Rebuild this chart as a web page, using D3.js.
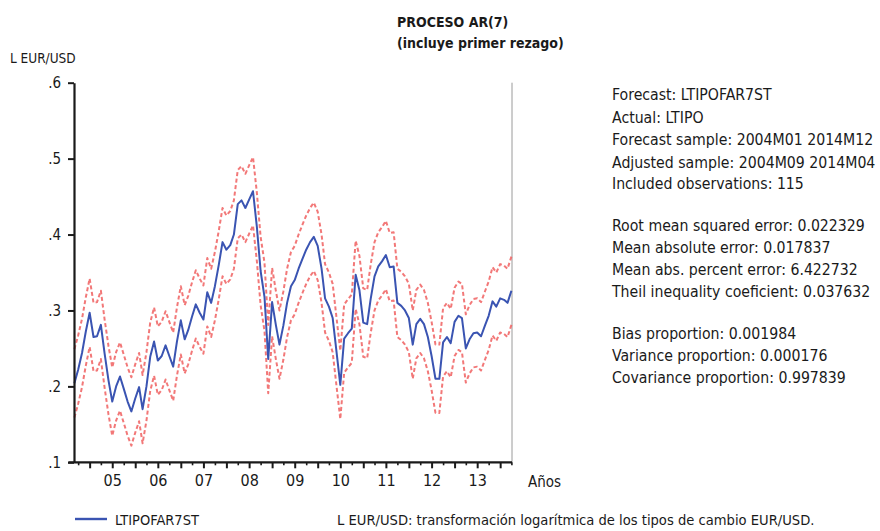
<!DOCTYPE html>
<html>
<head>
<meta charset="utf-8">
<script src="https://cdn.jsdelivr.net/npm/d3@7/dist/d3.min.js"></script>
<style>
  html, body { margin: 0; padding: 0; background: #fff; }
  svg { display: block; }
  text { font-family: "Liberation Sans Narrow", "DejaVu Sans Condensed", sans-serif; fill: #1a1a1a; }
</style>
</head>
<body>
<svg id="chart" width="880" height="531"></svg>
<script>
// Monthly series, first observation 2004M09, last 2014M04 (116 months)
const startMonth = [2004, 8];

// Static forecast LTIPOFAR7ST
const forecast = [
  0.204, 0.222, 0.244, 0.272, 0.297, 0.265, 0.266, 0.281, 0.243, 0.208,
  0.180, 0.200, 0.213, 0.197, 0.180, 0.167, 0.184, 0.199, 0.170, 0.200,
  0.239, 0.259, 0.234, 0.240, 0.254, 0.240, 0.226, 0.259, 0.287, 0.262,
  0.274, 0.292, 0.308, 0.297, 0.288, 0.324, 0.310, 0.332, 0.360, 0.390,
  0.380, 0.386, 0.400, 0.440, 0.445, 0.435, 0.446, 0.457, 0.410, 0.352,
  0.318, 0.236, 0.311, 0.280, 0.255, 0.280, 0.310, 0.332, 0.340, 0.355,
  0.368, 0.380, 0.390, 0.397, 0.385, 0.355, 0.316, 0.305, 0.290, 0.245,
  0.202, 0.263, 0.270, 0.276, 0.347, 0.327, 0.284, 0.282, 0.315, 0.345,
  0.358, 0.365, 0.373, 0.357, 0.358, 0.310, 0.306, 0.300, 0.290, 0.255,
  0.282, 0.289, 0.282, 0.265, 0.240, 0.210, 0.210, 0.258, 0.265, 0.257,
  0.285, 0.293, 0.290, 0.250, 0.262, 0.270, 0.271, 0.266, 0.280, 0.293,
  0.312, 0.305, 0.316, 0.314, 0.310, 0.326
];

// Upper band (+2 S.E.)
const upper = [
  0.249, 0.267, 0.289, 0.317, 0.342, 0.310, 0.311, 0.326, 0.288, 0.253,
  0.225, 0.245, 0.258, 0.242, 0.225, 0.212, 0.229, 0.244, 0.215, 0.245,
  0.284, 0.304, 0.279, 0.285, 0.299, 0.285, 0.271, 0.304, 0.332, 0.307,
  0.319, 0.337, 0.353, 0.342, 0.333, 0.369, 0.355, 0.377, 0.405, 0.435,
  0.425, 0.431, 0.445, 0.485, 0.490, 0.480, 0.491, 0.502, 0.455, 0.397,
  0.363, 0.281, 0.356, 0.325, 0.300, 0.325, 0.355, 0.377, 0.385, 0.400,
  0.413, 0.425, 0.435, 0.442, 0.430, 0.400, 0.361, 0.350, 0.335, 0.290,
  0.247, 0.308, 0.315, 0.321, 0.392, 0.372, 0.329, 0.327, 0.360, 0.390,
  0.403, 0.410, 0.418, 0.402, 0.403, 0.355, 0.351, 0.345, 0.335, 0.300,
  0.327, 0.334, 0.327, 0.310, 0.285, 0.255, 0.255, 0.303, 0.310, 0.302,
  0.330, 0.338, 0.335, 0.295, 0.307, 0.315, 0.316, 0.311, 0.325, 0.338,
  0.357, 0.350, 0.361, 0.359, 0.355, 0.371
];

// Lower band (-2 S.E.)
const lower = [
  0.159, 0.177, 0.199, 0.227, 0.252, 0.220, 0.221, 0.236, 0.198, 0.163,
  0.135, 0.155, 0.168, 0.152, 0.135, 0.122, 0.139, 0.154, 0.125, 0.155,
  0.194, 0.214, 0.189, 0.195, 0.209, 0.195, 0.181, 0.214, 0.242, 0.217,
  0.229, 0.247, 0.263, 0.252, 0.243, 0.279, 0.265, 0.287, 0.315, 0.345,
  0.335, 0.341, 0.355, 0.395, 0.400, 0.390, 0.401, 0.412, 0.365, 0.307,
  0.273, 0.191, 0.266, 0.235, 0.210, 0.235, 0.265, 0.287, 0.295, 0.310,
  0.323, 0.335, 0.345, 0.352, 0.340, 0.310, 0.271, 0.260, 0.245, 0.200,
  0.157, 0.218, 0.225, 0.231, 0.302, 0.282, 0.239, 0.237, 0.270, 0.300,
  0.313, 0.320, 0.328, 0.312, 0.313, 0.265, 0.261, 0.255, 0.245, 0.210,
  0.237, 0.244, 0.237, 0.220, 0.195, 0.165, 0.165, 0.213, 0.220, 0.212,
  0.240, 0.248, 0.245, 0.205, 0.217, 0.225, 0.226, 0.221, 0.235, 0.248,
  0.267, 0.260, 0.271, 0.269, 0.265, 0.281
];

const yTicks = [0.1, 0.2, 0.3, 0.4, 0.5, 0.6];
const yearLabels = ["05", "06", "07", "08", "09", "10", "11", "12", "13"];

const statsLines = [
  "Forecast: LTIPOFAR7ST",
  "Actual: LTIPO",
  "Forecast sample: 2004M01 2014M12",
  "Adjusted sample: 2004M09 2014M04",
  "Included observations: 115",
  "",
  "Root mean squared error: 0.022329",
  "Mean absolute error: 0.017837",
  "Mean abs. percent error: 6.422732",
  "Theil inequality coeficient: 0.037632",
  "",
  "Bias proportion: 0.001984",
  "Variance proportion: 0.000176",
  "Covariance proportion: 0.997839"
];

const svg = d3.select("#chart");

const dates = forecast.map((_, i) => d3.timeMonth.offset(new Date(startMonth[0], startMonth[1], 1), i));

const plot = { left: 74.4, right: 511.4, top: 82.7, bottom: 462.3 };

const x = d3.scaleTime()
  .domain([dates[0], dates[dates.length - 1]])
  .range([plot.left, plot.right]);

const y = d3.scaleLinear()
  .domain([0.1, 0.6])
  .range([plot.bottom, plot.top]);

// right frame line
svg.append("line")
  .attr("x1", 512).attr("x2", 512)
  .attr("y1", plot.top).attr("y2", plot.bottom)
  .attr("stroke", "#9a9a9a").attr("stroke-width", 1);

// lines
const line = (arr) => d3.line()
  .x((d, i) => x(dates[i]))
  .y(d => y(d))(arr);

const bandStyle = sel => sel
  .attr("fill", "none")
  .attr("stroke", "#f06060")
  .attr("stroke-opacity", 0.85)
  .attr("stroke-width", 2)
  .attr("stroke-dasharray", "4,2.6")
  .attr("stroke-linejoin", "round");

svg.append("path").attr("d", line(upper)).call(bandStyle);
svg.append("path").attr("d", line(lower)).call(bandStyle);

svg.append("path")
  .attr("d", line(forecast))
  .attr("fill", "none")
  .attr("stroke", "#3a54b2")
  .attr("stroke-width", 2)
  .attr("stroke-linejoin", "round");

// y axis
const yAxis = svg.append("g")
  .attr("transform", `translate(${plot.left - 0.4},0)`)
  .call(d3.axisLeft(y)
    .tickValues(yTicks)
    .tickSizeInner(6)
    .tickSizeOuter(0)
    .tickPadding(7)
    .tickFormat(d => d3.format(".1f")(d).replace(/^0/, "")));
yAxis.select(".domain").attr("stroke", "#1a1a1a").attr("stroke-width", 2.2);
yAxis.selectAll(".tick line").attr("stroke", "#1a1a1a").attr("stroke-width", 2);
yAxis.selectAll(".tick text")
  .style("font-size", "15px")
  .attr("fill", "#1a1a1a");

// x axis: major ticks every January and July, year label on July
const majorTicks = d3.timeMonth.range(new Date(2005, 0, 1), new Date(2014, 3, 2))
  .filter(d => d.getMonth() === 0 || d.getMonth() === 6);
const minorTicks = d3.timeMonth.range(new Date(2004, 9, 1), new Date(2014, 3, 2))
  .filter(d => d.getMonth() === 3 || d.getMonth() === 9);

const xAxis = svg.append("g")
  .attr("transform", `translate(0,${plot.bottom})`)
  .call(d3.axisBottom(x)
    .tickValues(majorTicks)
    .tickSizeInner(6)
    .tickSizeOuter(0)
    .tickPadding(6)
    .tickFormat(d => d.getMonth() === 6 ? yearLabels[d.getFullYear() - 2005] : ""));
xAxis.select(".domain")
  .attr("d", `M${plot.left - 6},0H${plot.right + 0.6}`)
  .attr("stroke", "#1a1a1a").attr("stroke-width", 2.2);
xAxis.selectAll(".tick line").attr("stroke", "#1a1a1a").attr("stroke-width", 2);
xAxis.selectAll(".tick text")
  .style("font-size", "16px")
  .attr("fill", "#1a1a1a");

const xMinor = svg.append("g")
  .attr("transform", `translate(0,${plot.bottom})`)
  .call(d3.axisBottom(x)
    .tickValues(minorTicks)
    .tickSizeInner(3)
    .tickSizeOuter(0)
    .tickFormat(""));
xMinor.select(".domain").remove();
xMinor.selectAll(".tick line").attr("stroke", "#1a1a1a").attr("stroke-width", 1.6);

// axis titles
svg.append("text").attr("x", 10).attr("y", 63)
  .style("font-size", "13.5px").text("L EUR/USD");
svg.append("text").attr("x", 528).attr("y", 487)
  .style("font-size", "15px").text("Años");

// title
const title = svg.append("text").attr("x", 397).attr("y", 27)
  .style("font-size", "14px").style("font-weight", "bold");
title.append("tspan").attr("x", 397).attr("y", 27).text("PROCESO AR(7)");
title.append("tspan").attr("x", 397).attr("y", 48).text("(incluye primer rezago)");

// forecast evaluation statistics
const statsY = [100, 122.5, 145, 167.5, 189, null, 230.5, 252.5, 275, 297, null, 338.5, 360.5, 382.5];
const stats = svg.append("g");
statsLines.forEach((t, i) => {
  if (!t) return;
  stats.append("text")
    .attr("x", 612)
    .attr("y", statsY[i])
    .style("font-size", "15.7px")
    .text(t);
});

// legend and note
svg.append("line")
  .attr("x1", 75).attr("x2", 107)
  .attr("y1", 519).attr("y2", 519)
  .attr("stroke", "#3a54b2").attr("stroke-width", 2.4);
svg.append("text").attr("x", 115).attr("y", 525)
  .style("font-size", "14.5px").text("LTIPOFAR7ST");
svg.append("text").attr("x", 337).attr("y", 525)
  .style("font-size", "14.6px")
  .text("L EUR/USD: transformación logarítmica de los tipos de cambio EUR/USD.");
</script>
</body>
</html>
